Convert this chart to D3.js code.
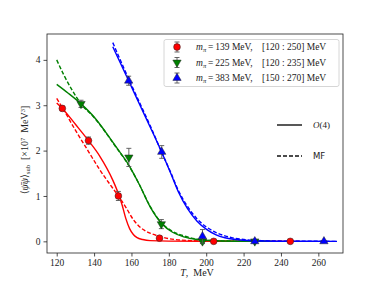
<!DOCTYPE html>
<html>
<head>
<meta charset="utf-8">
<script src="https://cdn.jsdelivr.net/npm/d3@7"></script>
<style>
  body { margin: 0; background: #fff; }
  svg text { font-family: "Liberation Serif", "DejaVu Serif", serif; }
</style>
</head>
<body>
<div class="chart"></div>
<script>
// data points
var redT = [123, 137, 153, 175, 204, 245];
var redV = [2.93, 2.22, 1.0, 0.07, 0.0, 0.0];
var redE = [0.05, 0.08, 0.1, 0.04, 0.02, 0.02];

var greenT = [133, 158.6, 176, 198, 226];
var greenV = [3.03, 1.85, 0.38, 0.0, 0.0];
var greenE = [0.08, 0.2, 0.1, 0.05, 0.03];

var blueT = [158.5, 176.2, 198, 226, 263];
var blueV = [3.54, 1.97, 0.11, 0.0, 0.0];
var blueE = [0.1, 0.14, 0.15, 0.03, 0.02];

// fit curves, O(4) (solid) and MF (dashed)
var redO4T = [120, 123, 130, 137, 143, 150, 153, 155, 157, 159, 161, 163, 166, 170, 180, 200, 250];
var redO4V = [3.05, 2.93, 2.58, 2.22, 1.88, 1.35, 1.05, 0.8, 0.5, 0.28, 0.15, 0.08, 0.04, 0.015, 0.004, 0.001, 0];
var redMFT = [120, 123, 130, 137, 143, 150, 153, 157, 161, 165, 170, 175, 180, 190, 200, 220, 250];
var redMFV = [3.15, 2.95, 2.45, 1.98, 1.58, 1.17, 1.0, 0.75, 0.48, 0.3, 0.18, 0.11, 0.06, 0.02, 0.008, 0.002, 0];

var greenO4T = [120, 126, 133, 140, 146, 152, 158, 164, 170, 176, 182, 188, 195, 205, 220, 235];
var greenO4V = [3.46, 3.27, 3.03, 2.74, 2.42, 2.07, 1.72, 1.27, 0.76, 0.4, 0.2, 0.1, 0.04, 0.012, 0.002, 0];
var greenMFT = [120, 124, 128, 133, 140, 146, 152, 158, 164, 170, 176, 182, 188, 195, 205, 220, 235];
var greenMFV = [4.0, 3.65, 3.35, 3.03, 2.73, 2.41, 2.06, 1.71, 1.27, 0.77, 0.41, 0.22, 0.12, 0.05, 0.015, 0.003, 0];

var blueO4T = [150, 158.5, 165, 170, 176, 181, 185, 190, 195, 200, 205, 210, 215, 220, 230, 245, 270];
var blueO4V = [4.29, 3.54, 2.96, 2.52, 1.98, 1.5, 1.1, 0.72, 0.45, 0.27, 0.15, 0.08, 0.045, 0.025, 0.008, 0.002, 0];
var blueMFT = [150, 158.5, 165, 170, 176, 181, 185, 190, 195, 200, 205, 210, 215, 220, 230, 245, 270];
var blueMFV = [4.38, 3.58, 3.0, 2.55, 1.98, 1.52, 1.13, 0.77, 0.5, 0.32, 0.2, 0.12, 0.07, 0.04, 0.015, 0.004, 0];

var xTicks = [120, 140, 160, 180, 200, 220, 240, 260];
var yTicks = [0, 1, 2, 3, 4];

var legendLabels = ["139 MeV,\u2003[120 : 250] MeV", "225 MeV,\u2003[120 : 235] MeV", "383 MeV,\u2003[150 : 270] MeV"];

var width = 381, height = 286;
var margin = { top: 34, right: 38, bottom: 33, left: 47 };
var serif = "Liberation Serif, DejaVu Serif, serif";

var svg = d3.select(".chart").append("svg")
  .attr("width", width)
  .attr("height", height);

var x = d3.scaleLinear().domain([114.8, 273.2]).range([margin.left, width - margin.right]);
var y = d3.scaleLinear().domain([-0.257, 4.57]).range([height - margin.bottom, margin.top]);

// axes
var xAxis = d3.axisBottom(x).tickValues(xTicks).tickSize(3.5).tickPadding(3).tickFormat(d3.format("d"));
var yAxis = d3.axisLeft(y).tickValues(yTicks).tickSize(3.5).tickPadding(3).tickFormat(d3.format("d"));

svg.append("g")
  .attr("transform", "translate(0," + (height - margin.bottom) + ")")
  .attr("font-family", serif)
  .call(xAxis)
  .call(g => g.select(".domain").remove())
  .selectAll("text").style("font-size", "9.5px").style("fill", "#222");

svg.append("g")
  .attr("transform", "translate(" + margin.left + ",0)")
  .call(yAxis)
  .attr("font-family", serif)
  .call(g => g.select(".domain").remove())
  .selectAll("text").style("font-size", "9.5px").style("fill", "#222");

svg.selectAll(".tick line").attr("stroke", "#222").attr("stroke-width", 0.8);

svg.append("rect")
  .attr("x", margin.left).attr("y", margin.top)
  .attr("width", width - margin.left - margin.right)
  .attr("height", height - margin.top - margin.bottom)
  .attr("fill", "none").attr("stroke", "#222").attr("stroke-width", 0.8);

// curves
var line = d3.line()
  .x(d => x(d[0])).y(d => y(d[1]))
  .curve(d3.curveMonotoneX);

function drawCurve(ts, vs, color, dashed) {
  svg.append("path")
    .datum(d3.zip(ts, vs))
    .attr("d", line)
    .attr("fill", "none")
    .attr("stroke", color)
    .attr("stroke-width", 1.4)
    .attr("stroke-dasharray", dashed ? "4,2" : null);
}

drawCurve(redO4T, redO4V, "red", false);
drawCurve(redMFT, redMFV, "red", true);
drawCurve(greenO4T, greenO4V, "green", false);
drawCurve(greenMFT, greenMFV, "green", true);
drawCurve(blueO4T, blueO4V, "blue", false);
drawCurve(blueMFT, blueMFV, "blue", true);

// markers
var tri = d3.symbol().type(d3.symbolTriangle).size(30);
var circle = d3.symbol().type(d3.symbolCircle).size(36);

function errBar(g, cx, y0, y1) {
  g.append("line").attr("x1", cx).attr("x2", cx).attr("y1", y0).attr("y2", y1)
    .attr("stroke", "#555").attr("stroke-width", 0.9);
  [y0, y1].forEach(v => g.append("line")
    .attr("x1", cx - 2.5).attr("x2", cx + 2.5).attr("y1", v).attr("y2", v)
    .attr("stroke", "#555").attr("stroke-width", 0.9));
}

function marker(g, kind, color, cx, cy) {
  var p = g.append("path")
    .attr("d", kind === "circle" ? circle() : tri())
    .attr("fill", color)
    .attr("stroke", "#222").attr("stroke-width", 0.5);
  if (kind === "down") p.attr("transform", "translate(" + cx + "," + cy + ") rotate(180)");
  else p.attr("transform", "translate(" + cx + "," + cy + ")");
}

function drawPoints(ts, vs, es, color, kind) {
  var g = svg.append("g");
  ts.forEach(function(t, i) {
    errBar(g, x(t), y(vs[i] + es[i]), y(vs[i] - es[i]));
    marker(g, kind, color, x(t), y(vs[i]));
  });
}

drawPoints(redT, redV, redE, "red", "circle");
drawPoints(greenT, greenV, greenE, "green", "down");
drawPoints(blueT, blueV, blueE, "blue", "up");

// legend 1
var leg = svg.append("g");
leg.append("rect")
  .attr("x", 164).attr("y", 39.5).attr("width", 175).attr("height", 47)
  .attr("rx", 2).attr("fill", "#fff").attr("fill-opacity", 0.8)
  .attr("stroke", "#ccc").attr("stroke-width", 0.8);

var legColors = ["red", "green", "blue"];
var legKinds = ["circle", "down", "up"];
legendLabels.forEach(function(lab, i) {
  var ly = 47 + i * 15.5;
  errBar(leg, 177, ly - 5, ly + 5);
  marker(leg, legKinds[i], legColors[i], 177, ly);
  var t = leg.append("text").attr("x", 196).attr("y", ly + 3)
    .attr("font-family", serif).style("font-size", "9.5px").style("fill", "#222");
  t.append("tspan").style("font-style", "italic").text("m");
  t.append("tspan").attr("dy", 2).style("font-size", "6.5px").style("font-style", "italic").text("π");
  t.append("tspan").attr("dy", -2).text("\u2009=\u2009" + lab);
});

// legend 2 (line styles)
var leg2 = svg.append("g");
leg2.append("line").attr("x1", 277).attr("x2", 302).attr("y1", 125).attr("y2", 125)
  .attr("stroke", "#111").attr("stroke-width", 1.4);
leg2.append("text").attr("x", 313).attr("y", 128).attr("font-family", serif)
  .style("font-size", "9px").style("fill", "#222")
  .html('<tspan font-style="italic">O</tspan>(4)');
leg2.append("line").attr("x1", 277).attr("x2", 302).attr("y1", 156).attr("y2", 156)
  .attr("stroke", "#111").attr("stroke-width", 1.4).attr("stroke-dasharray", "4,2");
leg2.append("text").attr("x", 313).attr("y", 159).style("font-size", "8.5px")
  .style("font-family", "DejaVu Sans, sans-serif").style("fill", "#222").text("MF");

// axis labels
svg.append("text")
  .attr("x", 197).attr("y", 276).attr("font-family", serif)
  .attr("text-anchor", "middle").style("font-size", "10px").style("fill", "#222")
  .html('<tspan font-style="italic">T</tspan>,\u2002MeV');

var yl = svg.append("text")
  .attr("transform", "translate(28,150) rotate(-90)").attr("font-family", serif)
  .attr("text-anchor", "middle").style("font-size", "10px").style("fill", "#222");
yl.append("tspan").text("\u27E8");
yl.append("tspan").style("font-style", "italic").text("\u03C8\u0304\u03C8");
yl.append("tspan").text("\u27E9");
yl.append("tspan").attr("dy", 2).style("font-size", "6.5px").text("sub");
yl.append("tspan").attr("dy", -2).text("\u2002[\u00D710");
yl.append("tspan").attr("dy", -3).style("font-size", "6.5px").text("7");
yl.append("tspan").attr("dy", 3).text("\u2002MeV");
yl.append("tspan").attr("dy", -3).style("font-size", "6.5px").text("3");
yl.append("tspan").attr("dy", 3).text("]");
</script>
</body>
</html>
